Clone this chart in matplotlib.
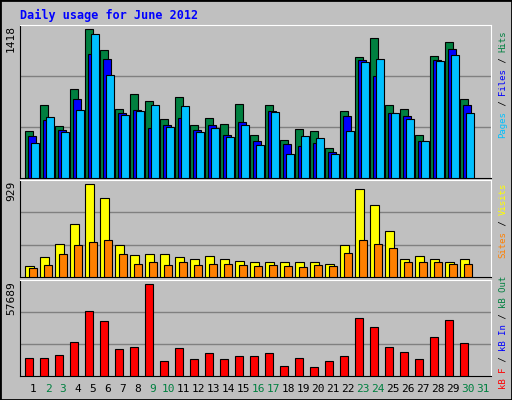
import numpy as np
import matplotlib.pyplot as plt
from matplotlib.patches import Rectangle

days = np.arange(1, 32)
hits = [433, 676, 480, 826, 1377, 1190, 639, 779, 714, 545, 751, 489, 555, 499, 686,
        396, 676, 349, 452, 433, 274, 620, 1125, 1293, 676, 639, 396, 1134, 1265, 732, 0]
files = [386, 536, 442, 732, 1153, 1106, 601, 629, 464, 489, 555, 442, 489, 396, 517,
         340, 620, 312, 293, 321, 237, 573, 1097, 947, 601, 573, 340, 1097, 1200, 676, 0]
pages = [321, 564, 424, 629, 1331, 957, 583, 620, 676, 470, 667, 424, 461, 377, 489,
         302, 611, 227, 386, 368, 218, 433, 1078, 1106, 601, 545, 340, 1087, 1144, 601, 0]
visits = [110, 187, 313, 506, 894, 758, 303, 206, 216, 216, 187, 177, 197, 177, 158,
          148, 148, 139, 139, 148, 129, 303, 845, 690, 439, 168, 197, 177, 139, 168, 0]
sites = [90, 119, 216, 303, 332, 352, 216, 129, 139, 119, 139, 119, 129, 129, 119,
         110, 119, 110, 100, 119, 110, 226, 352, 313, 274, 139, 139, 139, 129, 129, 0]
kbytes = [10525, 10525, 12346, 20240, 39063, 32991, 15990, 17204, 55460, 9310, 16597,
          9918, 13561, 9918, 11739, 11739, 13561, 6274, 10525, 5667, 9310, 11739, 34813,
          29348, 17204, 14168, 9918, 23276, 33598, 19633, 0]
weekend = [2, 3, 9, 10, 16, 17, 23, 24, 30, 31]
max_hits, max_visits, max_kb = 1418, 929, 57689

W, H = 512, 400
fig = plt.figure(figsize=(W / 100, H / 100), dpi=100)
fig.patch.set_facecolor('#c0c0c0')
fig.patches.append(Rectangle((0, 0), 1, 1, transform=fig.transFigure,
                             fill=False, edgecolor='black', lw=2))
mono = 'DejaVu Sans Mono'


def panel(top, bottom):
    ax = fig.add_axes([20 / W, 1 - bottom / H, 471 / W, (bottom - top) / H])
    ax.set_facecolor('#c0c0c0')
    ax.set_xlim(0.13, 31.53)
    ax.set_xticks([])
    ax.set_yticks([])
    for s in ['top', 'right']:
        ax.spines[s].set_color('white')
    for s in ['left', 'bottom']:
        ax.spines[s].set_color('black')
    return ax


def bars(ax, vals, off, color, w=0.49):
    v = np.array(vals)
    m = v > 0
    ax.bar(days[m] + off, v[m], width=w, align='edge', color=color,
           edgecolor='black', lw=0.8, zorder=3)


ax1 = panel(25, 178)
ax1.set_ylim(0, max_hits)
for g in [1 / 3, 2 / 3]:
    ax1.axhline(max_hits * g, color='#808080', lw=1, zorder=1)
bars(ax1, hits, -0.51, '#008040')
bars(ax1, files, -0.31, '#0000ff')
bars(ax1, pages, -0.11, '#00c0ff')

ax2 = panel(180, 277)
ax2.set_ylim(0, max_visits)
for g in [1 / 3, 2 / 3]:
    ax2.axhline(max_visits * g, color='#808080', lw=1, zorder=1)
bars(ax2, visits, -0.51, '#ffff00', w=0.56)
bars(ax2, sites, -0.24, '#ff8000')

ax3 = panel(280, 376)
ax3.set_ylim(0, max_kb)
for g in [1 / 3, 2 / 3]:
    ax3.axhline(max_kb * g, color='#808080', lw=1, zorder=1)
bars(ax3, kbytes, -0.51, '#ff0000')

for d in days:
    ax3.text(d, -0.14, str(d), transform=ax3.get_xaxis_transform(), ha='center',
             va='center', fontsize=8, family=mono,
             color='#008040' if d in weekend else 'black')

fig.text(20 / W, 1 - 15 / H, 'Daily usage for June 2012', color='#0000ff',
         family=mono, fontsize=8.5, fontweight='bold', va='center')

for y, txt in [(25, '1418'), (181, '929'), (281, '57689')]:
    fig.text(16 / W, 1 - y / H, txt, rotation=90, ha='right', va='top',
             family=mono, fontsize=8)


def side_label(ycenter, parts):
    # parts listed bottom to top
    n = sum(len(t) for t, _ in parts)
    ch = 5.4
    y = ycenter + n * ch / 2
    for t, c in parts:
        fig.text(503 / W, 1 - y / H, t, rotation=90, ha='center', va='bottom',
                 family=mono, fontsize=6.5, color=c)
        y -= len(t) * ch


side_label(84, [('Pages', '#00c0ff'), (' / ', 'black'), ('Files', '#0000ff'),
                (' / ', 'black'), ('Hits', '#008040')])
side_label(220, [('Sites', '#ff8000'), (' / ', 'black'), ('Visits', '#ffff00')])
side_label(332, [('kB F', '#ff0000'), (' / ', 'black'), ('kB In', '#0000ff'),
                 (' / ', 'black'), ('kB Out', '#008040')])

fig.savefig('out.png', dpi=100, facecolor=fig.get_facecolor())
